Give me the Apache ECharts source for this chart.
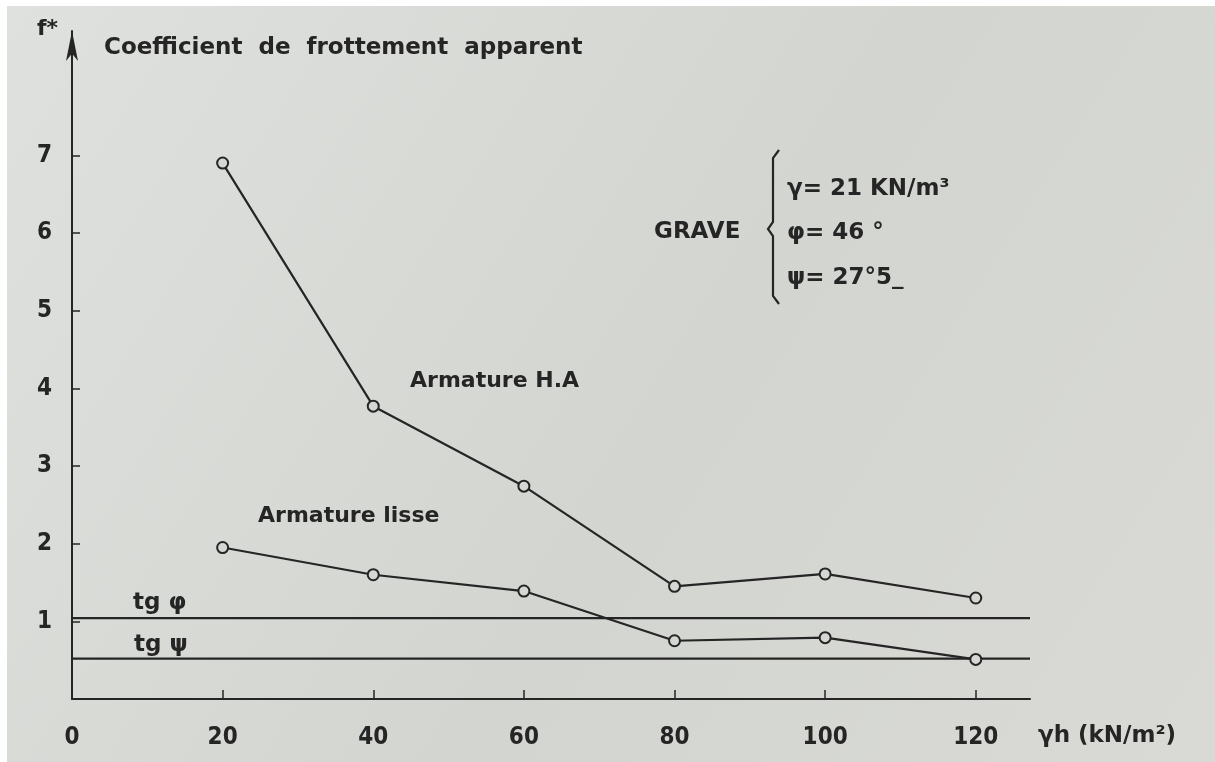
<!DOCTYPE html>
<html>
<head>
<meta charset="utf-8">
<title>Coefficient de frottement apparent</title>
<script src="https://cdn.jsdelivr.net/npm/echarts@6/dist/echarts.min.js"></script>
<style>
  html, body { margin: 0; padding: 0; background: #ffffff; }
  #chart { width: 1215px; height: 762px; }
</style>
</head>
<body>
<div id="chart"></div>
<script>
// γh (kN/m²) at each test level
const gammaH = [20, 40, 60, 80, 100, 120];
// apparent friction coefficient f*, ribbed reinforcement
const armatureHA = [6.90, 3.77, 2.74, 1.45, 1.61, 1.30];
// apparent friction coefficient f*, smooth reinforcement
const armatureLisse = [1.95, 1.60, 1.39, 0.75, 0.79, 0.51];
// reference levels tg φ (φ = 46°) and tg ψ (ψ = 27.5°)
const tgPhi = 1.04;
const tgPsi = 0.52;
const xTickLabels = [0, 20, 40, 60, 80, 100, 120];
const xTickMarks = [20, 40, 60, 80, 100, 120];
const yTicks = [1, 2, 3, 4, 5, 6, 7];
const xEnd = 127.2;
const yEnd = 8.6;

const INK = '#252525';
const PAPER = '#d5d7d3';
const TEXT_FONT = '"DejaVu Sans", sans-serif';
const NUM_FONT = '"DejaVu Sans Condensed", "DejaVu Sans", sans-serif';

const pairs = (xs, ys) => xs.map((x, i) => [x, ys[i]]);

const chart = echarts.init(document.getElementById('chart'), null, { renderer: 'canvas' });

function txt(text, x, y, size) {
  return {
    type: 'text',
    x: x, y: y,
    style: {
      text: text,
      fill: INK,
      font: 'bold ' + size + 'px ' + TEXT_FONT,
      textVerticalAlign: 'middle'
    },
    z: 10
  };
}

const option = {
  backgroundColor: {
    type: 'linear', x: 0, y: 0, x2: 1, y2: 1,
    colorStops: [
      { offset: 0, color: '#dfe1de' },
      { offset: 0.55, color: '#d3d5d1' },
      { offset: 1, color: '#d9dad6' }
    ]
  },
  animation: false,
  grid: { left: 72, right: 185, top: 31, bottom: 63, containLabel: false },
  xAxis: {
    type: 'value',
    min: 0, max: xEnd, interval: 20,
    axisLine: { show: true, onZero: false, lineStyle: { color: INK, width: 2 } },
    axisTick: {
      show: true, inside: true, length: 9,
      customValues: xTickMarks,
      lineStyle: { color: INK, width: 1.5 }
    },
    axisLabel: {
      margin: 27,
      color: INK,
      fontFamily: NUM_FONT,
      fontSize: 24,
      fontWeight: 'bold',
      customValues: xTickLabels
    },
    splitLine: { show: false }
  },
  yAxis: {
    type: 'value',
    min: 0, max: yEnd, interval: 1,
    axisLine: {
      show: true, onZero: false,
      symbol: ['none', 'arrow'],
      symbolSize: [9, 30],
      symbolOffset: [0, 0],
      lineStyle: { color: INK, width: 2 }
    },
    axisTick: {
      show: true, inside: true, length: 8,
      customValues: yTicks,
      lineStyle: { color: INK, width: 1.5 }
    },
    axisLabel: {
      margin: 20,
      color: INK,
      fontFamily: NUM_FONT,
      fontSize: 24,
      fontWeight: 'bold',
      customValues: yTicks
    },
    splitLine: { show: false }
  },
  series: [
    {
      name: 'tg φ',
      type: 'line',
      data: [[0, tgPhi], [xEnd, tgPhi]],
      symbol: 'none',
      lineStyle: { color: INK, width: 2.2 },
      z: 2
    },
    {
      name: 'tg ψ',
      type: 'line',
      data: [[0, tgPsi], [xEnd, tgPsi]],
      symbol: 'none',
      lineStyle: { color: INK, width: 2.2 },
      z: 2
    },
    {
      name: 'Armature H.A',
      type: 'line',
      data: pairs(gammaH, armatureHA),
      symbol: 'circle',
      symbolSize: 11,
      itemStyle: { color: PAPER, borderColor: INK, borderWidth: 2 },
      lineStyle: { color: INK, width: 2.2 },
      z: 3
    },
    {
      name: 'Armature lisse',
      type: 'line',
      data: pairs(gammaH, armatureLisse),
      symbol: 'circle',
      symbolSize: 11,
      itemStyle: { color: PAPER, borderColor: INK, borderWidth: 2 },
      lineStyle: { color: INK, width: 2.2 },
      z: 3
    }
  ],
  graphic: [
    // paper edge
    { type: 'rect', shape: { x: 0, y: 0, width: 1215, height: 6 }, style: { fill: '#ffffff' }, z: 20 },
    { type: 'rect', shape: { x: 0, y: 0, width: 7, height: 762 }, style: { fill: '#ffffff' }, z: 20 },

    txt('f*', 37, 29, 22),
    txt('Coefficient  de  frottement  apparent', 104, 48, 23),

    txt('Armature H.A', 410, 381, 22),
    txt('Armature lisse', 258, 516, 22),
    txt('tg φ', 133, 603, 23),
    txt('tg ψ', 134, 645, 23),

    txt('GRAVE', 654, 232, 23),
    {
      type: 'polyline',
      shape: { points: [[779, 150], [773, 158], [773, 222], [768, 229], [773, 236], [773, 296], [779, 304]] },
      style: { stroke: INK, lineWidth: 2.2, fill: null },
      z: 10
    },
    txt('γ= 21 KN/m³', 787, 189, 23),
    txt('φ= 46 °', 787, 233, 23),
    txt('ψ= 27°5_', 787, 278, 23),

    txt('γh (kN/m²)', 1038, 736, 23)
  ]
};

chart.setOption(option);
</script>
</body>
</html>
